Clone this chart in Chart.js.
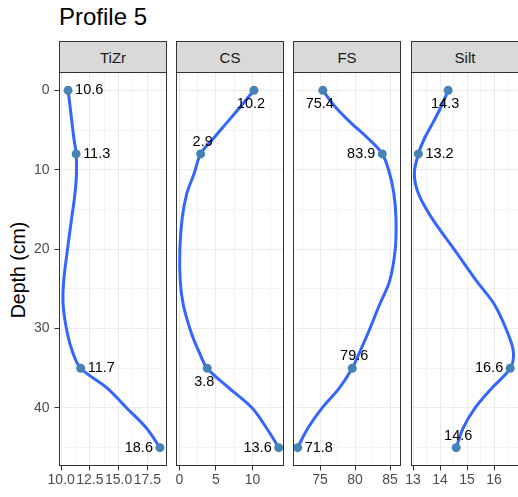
<!DOCTYPE html>
<html>
<head>
<meta charset="utf-8">
<title>Profile 5</title>
<script src="https://cdn.jsdelivr.net/npm/chart.js@4.4.1/dist/chart.umd.min.js"></script>
<style>
  html, body { margin: 0; padding: 0; background: #fff; overflow: hidden; }
  #wrap { position: relative; width: 518px; height: 497px; overflow: hidden;
          font-family: "Liberation Sans", Arial, Helvetica, sans-serif; }
  #wrap canvas { position: absolute; top: 0; }
  .strip { position: absolute; top: 41px; height: 32px; width: 108px; box-sizing: border-box;
           border: 1px solid #333333; background: #D9D9D9; color: #1A1A1A; font-size: 15px;
           display: flex; align-items: center; justify-content: center; }
  #title { position: absolute; left: 59px; top: 5px; font-size: 24px; line-height: 24px; color: #000; white-space: nowrap; }
  #ytitle { position: absolute; left: 18px; top: 270px; font-size: 19.5px; line-height: 20px; color: #000;
            white-space: nowrap; transform: translate(-50%, -50%) rotate(-90deg); }
</style>
</head>
<body>
<div id="wrap">
  <div id="title">Profile 5</div>
  <div id="ytitle">Depth (cm)</div>
</div>
<script>
// Sampled depths (cm) and measured values per fraction
const depths = [0, 8, 35, 45];
const tiZr = [10.6, 11.3, 11.7, 18.6];
const cs = [10.2, 2.9, 3.8, 13.6];
const fs = [75.4, 83.9, 79.6, 71.8];
const silt = [14.3, 13.2, 16.6, 14.6];

// Smoothed profile traces
const curveDepths = [0, 2, 4, 6, 8, 10.5, 13, 16, 20, 24, 27, 30.5, 33, 35, 37.5, 40, 42.5, 45];
const tiZrCurve = [10.6, 10.77, 10.93, 11.1, 11.3, 11.33, 11.2, 10.92, 10.55, 10.22, 10.17, 10.52, 11.0, 11.7, 14.0, 15.7, 17.4, 18.6];
const csCurve   = [10.2, 8.4, 6.55, 4.7, 2.9, 2.0, 1.0, 0.38, 0.05, 0.1, 0.52, 1.6, 2.7, 3.8, 6.8, 9.95, 11.9, 13.6];
const fsCurve   = [75.4, 77.1, 79.3, 81.8, 83.9, 84.95, 85.55, 85.85, 85.75, 84.95, 83.5, 81.9, 80.65, 79.6, 77.75, 75.3, 73.3, 71.8];
const siltCurve = [14.3, 14.05, 13.75, 13.43, 13.2, 13.05, 13.2, 13.68, 14.52, 15.35, 16.02, 16.5, 16.72, 16.6, 15.92, 15.3, 14.86, 14.6];

// Axis breaks
const depthTicks = [0, 10, 20, 30, 40];
const tiZrTicks = [10, 12.5, 15, 17.5];
const csTicks = [0, 5, 10];
const fsTicks = [75, 80, 85];
const siltTicks = [13, 14, 15, 16];

const FONT = '"Liberation Sans", Arial, Helvetica, sans-serif';
const PANEL_W = 107;
const AREA_TOP = 72.5;
const AREA_BOTTOM = 465.5;
const CANVAS_H = 497;

// where each value label sits relative to its point
const spotStyle = {
  right: { dx: 7, dy: 0, align: 'left' },
  left:  { dx: -7, dy: 0, align: 'right' },
  above: { dx: 2, dy: -12, align: 'center' },
  below: { dx: -3, dy: 14, align: 'center' }
};

const panels = [
  { name: 'TiZr', values: tiZr, curve: tiZrCurve, ticks: tiZrTicks, decimals: 1,
    left: 59.5, min: 9.852, max: 19.17, spots: ['right', 'right', 'right', 'left'] },
  { name: 'CS', values: cs, curve: csCurve, ticks: csTicks, decimals: 0,
    left: 176.5, min: -0.41, max: 14.25, spots: ['below', 'above', 'below', 'left'] },
  { name: 'FS', values: fs, curve: fsCurve, ticks: fsTicks, decimals: 0,
    left: 293.5, min: 71.21, max: 86.5, spots: ['below', 'left', 'above', 'right'] },
  { name: 'Silt', values: silt, curve: siltCurve, ticks: siltTicks, decimals: 0,
    left: 411.5, min: 12.944, max: 16.907, spots: ['below', 'right', 'left', 'above'] }
];

// major breaks plus ggplot-style minor breaks halfway between them
function withMinor(major, min, max) {
  const step = major[1] - major[0];
  const out = [];
  for (let k = 0; k <= (major.length + 1) * 2; k++) {
    const v = major[0] - step + k * step / 2;
    if (v < min - 1e-9 || v > max + 1e-9) continue;
    const isMajor = major.some(m => Math.abs(m - v) < 1e-9);
    out.push({ value: v, minor: !isMajor });
  }
  return out;
}

const panelFrame = {
  id: 'panelFrame',
  afterDraw(chart) {
    const a = chart.chartArea;
    const ctx = chart.ctx;
    ctx.save();
    ctx.strokeStyle = '#333333';
    ctx.lineWidth = 1;
    ctx.strokeRect(a.left, a.top, a.right - a.left, a.bottom - a.top);
    ctx.restore();
  }
};

const valueLabels = {
  id: 'valueLabels',
  afterDatasetsDraw(chart, args, opts) {
    const meta = chart.getDatasetMeta(0);
    const ctx = chart.ctx;
    ctx.save();
    ctx.font = '14.5px ' + FONT;
    ctx.fillStyle = '#000000';
    ctx.textBaseline = 'middle';
    meta.data.forEach((el, i) => {
      const s = spotStyle[opts.spots[i]];
      ctx.textAlign = s.align;
      ctx.fillText(opts.texts[i], el.x + s.dx, el.y + s.dy);
    });
    ctx.restore();
  }
};

const wrap = document.getElementById('wrap');

panels.forEach((p, i) => {
  const first = i === 0;
  const canvasLeft = first ? 0 : Math.round(p.left - 30);
  const canvasW = first ? 200 : 170;
  const padL = first ? 0 : p.left - canvasLeft;
  const padR = canvasW - (p.left - canvasLeft) - PANEL_W;

  // facet strip
  const strip = document.createElement('div');
  strip.className = 'strip';
  strip.style.left = (p.left - 0.5) + 'px';
  strip.textContent = p.name;
  wrap.appendChild(strip);

  const canvas = document.createElement('canvas');
  canvas.width = canvasW;
  canvas.height = CANVAS_H;
  canvas.style.left = canvasLeft + 'px';
  canvas.style.width = canvasW + 'px';
  canvas.style.height = CANVAS_H + 'px';
  wrap.appendChild(canvas);

  const xTicks = withMinor(p.ticks, p.min, p.max);
  const yTicks = withMinor(depthTicks, -2.25, 47.25);

  new Chart(canvas, {
    type: 'scatter',
    data: {
      datasets: [
        {
          data: p.values.map((v, k) => ({ x: v, y: depths[k] })),
          pointRadius: 4.5,
          pointBackgroundColor: '#4682B4',
          pointBorderWidth: 0,
          showLine: false,
          order: 0
        },
        {
          data: p.curve.map((v, k) => ({ x: v, y: curveDepths[k] })),
          showLine: true,
          pointRadius: 0,
          borderColor: '#3366FF',
          borderWidth: 3,
          tension: 0.35,
          fill: false,
          order: 1
        }
      ]
    },
    options: {
      responsive: false,
      animation: false,
      devicePixelRatio: 1,
      events: [],
      layout: { padding: { top: AREA_TOP, bottom: 0, left: padL, right: padR } },
      plugins: {
        legend: { display: false },
        tooltip: { enabled: false },
        valueLabels: {
          spots: p.spots,
          texts: p.values.map(v => v.toFixed(1))
        }
      },
      scales: {
        x: {
          type: 'linear',
          min: p.min,
          max: p.max,
          afterBuildTicks: s => { s.ticks = xTicks.map(t => ({ ...t })); },
          afterFit: s => { s.height = CANVAS_H - AREA_BOTTOM; },
          border: { display: false },
          grid: {
            color: c => (c.tick && c.tick.minor) ? '#F4F4F4' : '#EBEBEB',
            lineWidth: 1,
            tickColor: c => (c.tick && c.tick.minor) ? 'rgba(0,0,0,0)' : '#333333',
            tickLength: 5,
            drawTicks: true
          },
          ticks: {
            autoSkip: false,
            maxRotation: 0,
            minRotation: 0,
            padding: 1,
            color: '#4D4D4D',
            font: { family: FONT, size: 14 },
            callback: (v, idx, ticks) => ticks[idx].minor ? '' : Number(v).toFixed(p.decimals)
          }
        },
        y: {
          type: 'linear',
          reverse: true,
          min: -2.25,
          max: 47.25,
          afterBuildTicks: s => { s.ticks = yTicks.map(t => ({ ...t })); },
          afterFit: s => { s.width = first ? p.left : 0; },
          border: { display: false },
          grid: {
            color: c => (c.tick && c.tick.minor) ? '#F4F4F4' : '#EBEBEB',
            lineWidth: 1,
            tickColor: c => (c.tick && c.tick.minor) ? 'rgba(0,0,0,0)' : '#333333',
            tickLength: 5,
            drawTicks: first
          },
          ticks: {
            display: first,
            autoSkip: false,
            padding: 5,
            color: '#4D4D4D',
            font: { family: FONT, size: 14 },
            callback: (v, idx, ticks) => ticks[idx].minor ? '' : String(v)
          }
        }
      }
    },
    plugins: [valueLabels, panelFrame]
  });
});
</script>
</body>
</html>
